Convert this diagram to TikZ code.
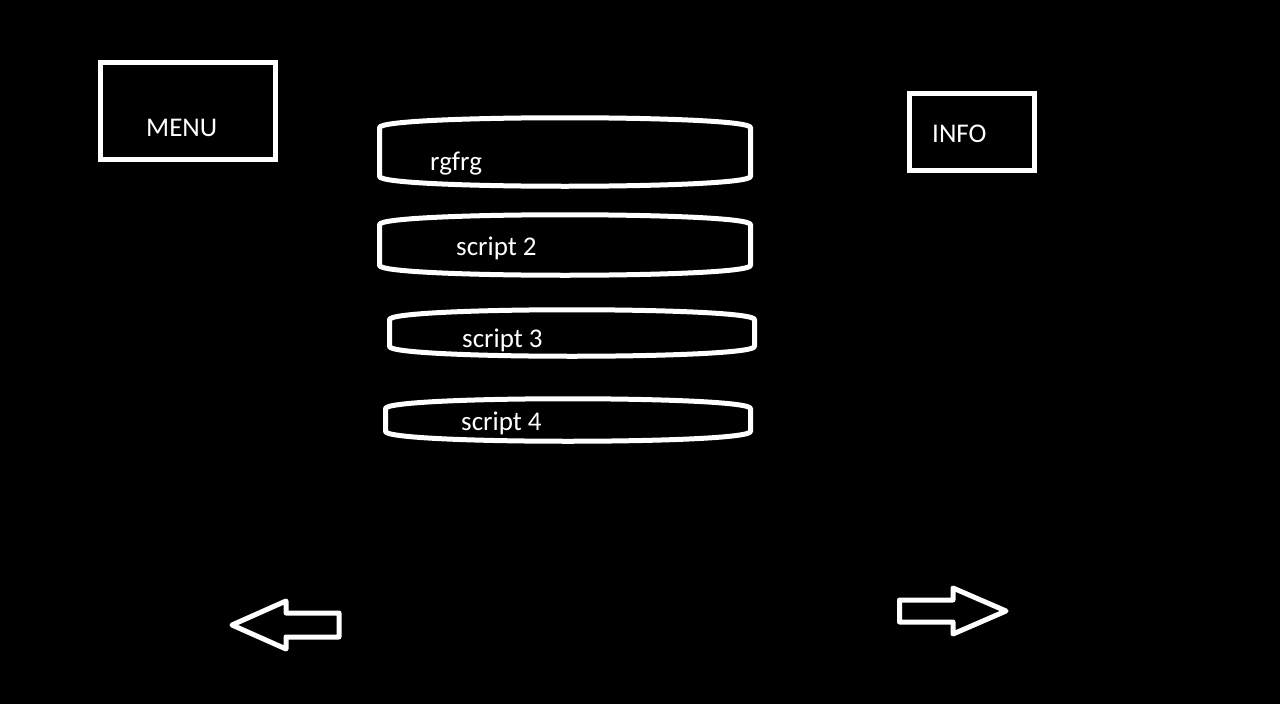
\documentclass[tikz,border=0pt]{standalone}
\usepackage{fontspec}
\setmainfont{Carlito}
\definecolor{BackClr}{rgb}{0,0,0}
\definecolor{LineClr}{rgb}{1,1,1}

\tikzset{
  boxline/.style={draw=LineClr, line width=5pt},
  boxtext/.style={text=LineClr, font=\fontsize{27}{32}\selectfont, inner sep=0pt, anchor=base west},
}

% script bar: left, top, right, bottom
\newcommand{\scriptbar}[4]{%
  \draw[boxline, line join=round] (#1,#4-10) -- (#1,#2+10)
    .. controls (#1+2,#2-3) and (#3-2,#2-3) .. (#3,#2+10)
    -- (#3,#4-10)
    .. controls (#3-2,#4+3) and (#1+2,#4+3) .. cycle;}

\begin{document}
\begin{tikzpicture}[x=1pt,y=-1pt]
\fill[BackClr] (0,0) rectangle (1280,704);

% Boxes in the corners.
\node[boxline, minimum width=175pt, minimum height=97pt] (menu) at (188,111) {};
\node[boxline, minimum width=125pt, minimum height=77pt] (info) at (972,132) {};
\node[boxtext] (menutxt) at (146,136) {MENU};
\node[boxtext] (infotxt) at (932,142) {INFO};

% The list of scripts.
\scriptbar{379.5}{117.5}{750.5}{186.5}
\scriptbar{379.5}{214.5}{750.5}{275.5}
\scriptbar{389.5}{309.5}{754.5}{356.5}
\scriptbar{385.5}{398.5}{750.5}{441.5}
\node[boxtext] (script1) at (430,170) {rgfrg};
\node[boxtext] (script2) at (456,255) {script 2};
\node[boxtext] (script3) at (462,347) {script 3};
\node[boxtext] (script4) at (461,430) {script 4};

% Back and next arrows.
\draw[boxline, line join=round] (232,625) -- (286,601) -- (286,613) -- (339,613)
  -- (339,637) -- (286,637) -- (286,649) -- cycle;
\draw[boxline, line join=round] (899.5,600) -- (953,600) -- (953,588) -- (1006,611)
  -- (953,634) -- (953,622) -- (899.5,622) -- cycle;

\end{tikzpicture}
\end{document}
